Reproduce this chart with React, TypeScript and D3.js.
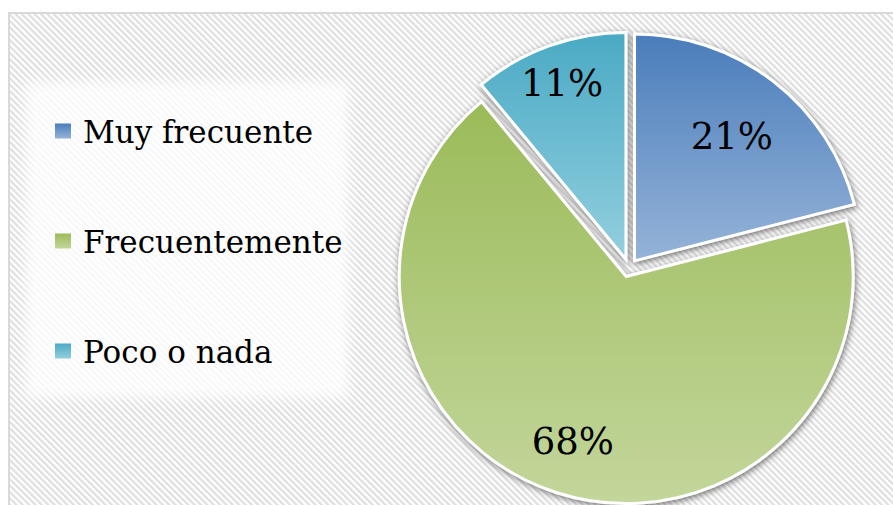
import * as d3 from "d3";
import { useEffect, useRef } from "react";

const categories = ["Muy frecuente", "Frecuentemente", "Poco o nada"];
const values = [21, 68, 11];
const percentLabels = ["21%", "68%", "11%"];
// gradient stops per category: top colour, bottom colour
const topColors = ["#4a7dbb", "#9bbb59", "#4aaac4"];
const bottomColors = ["#95b3d8", "#c3d69b", "#93cfdf"];

const W = 893;
const H = 505;

export default function App() {
	const ref = useRef<SVGSVGElement | null>(null);

	useEffect(() => {
		if (!ref.current) return;
		const svg = d3.select(ref.current);
		svg.selectAll("*").remove();

		const defs = svg.append("defs");

		// diagonal hatch background
		const pat = defs
			.append("pattern")
			.attr("id", "hatch")
			.attr("patternUnits", "userSpaceOnUse")
			.attr("width", 4.5)
			.attr("height", 4.5)
			.attr("patternTransform", "rotate(-45)");
		pat.append("rect").attr("width", 4.5).attr("height", 4.5).attr("fill", "#ffffff");
		pat.append("rect").attr("width", 2.2).attr("height", 4.5).attr("fill", "#dfdfdf");

		const soft = defs.append("filter").attr("id", "soft").attr("x", "-10%").attr("y", "-10%").attr("width", "120%").attr("height", "120%");
		soft.append("feGaussianBlur").attr("stdDeviation", 6);

		const shadow = defs.append("filter").attr("id", "shadow").attr("x", "-10%").attr("y", "-10%").attr("width", "120%").attr("height", "120%");
		shadow
			.append("feDropShadow")
			.attr("dx", 1)
			.attr("dy", 2)
			.attr("stdDeviation", 3)
			.attr("flood-color", "#444")
			.attr("flood-opacity", 0.75);

		const color = d3.scaleOrdinal<string, number>().domain(categories).range([0, 1, 2]);
		categories.forEach((c, i) => {
			const g = defs
				.append("linearGradient")
				.attr("id", `grad${i}`)
				.attr("x1", 0)
				.attr("y1", 0)
				.attr("x2", 0)
				.attr("y2", 1);
			g.append("stop").attr("offset", "0%").attr("stop-color", topColors[i]);
			g.append("stop").attr("offset", "100%").attr("stop-color", bottomColors[i]);
		});

		// chart area
		svg
			.append("rect")
			.attr("x", 9)
			.attr("y", 13)
			.attr("width", W + 20)
			.attr("height", H + 20)
			.attr("fill", "url(#hatch)")
			.attr("stroke", "#d9d9d9")
			.attr("stroke-width", 2);

		// legend backdrop
		svg
			.append("rect")
			.attr("x", 26)
			.attr("y", 82)
			.attr("width", 322)
			.attr("height", 316)
			.attr("fill", "#ffffff")
			.attr("opacity", 0.8)
			.attr("filter", "url(#soft)");

		// pie
		const cx = 629;
		const cy = 268;
		const r = 227;
		const explode = 9;
		const labelFactor = [0.7, 0.76, 0.83]; // excel "best fit" label distances
		const pie = d3
			.pie<number>()
			.value((d) => d)
			.sort(null);
		const arcs = pie(values);
		const arc = d3.arc<d3.PieArcDatum<number>>().innerRadius(0).outerRadius(r);

		const off = (d: d3.PieArcDatum<number>) => {
			const a = (d.startAngle + d.endAngle) / 2;
			return [Math.sin(a) * explode, -Math.cos(a) * explode];
		};

		const pg = svg.append("g").attr("transform", `translate(${cx},${cy})`);
		const slices = pg.append("g").attr("filter", "url(#shadow)");
		slices
			.selectAll("path")
			.data(arcs)
			.enter()
			.append("path")
			.attr("transform", (d) => `translate(${off(d)[0]},${off(d)[1]})`)
			.attr("d", arc)
			.attr("fill", (d, i) => `url(#grad${color(categories[i])})`)
			.attr("stroke", "#ffffff")
			.attr("stroke-width", 3)
			.attr("stroke-linejoin", "miter");

		pg.selectAll("text")
			.data(arcs)
			.enter()
			.append("text")
			.attr("transform", (d, i) => {
				const lr = r * labelFactor[i];
				const [x, y] = d3.arc<d3.PieArcDatum<number>>().innerRadius(lr).outerRadius(lr).centroid(d);
				const [ox, oy] = off(d);
				return `translate(${x + ox},${y + oy})`;
			})
			.attr("text-anchor", "middle")
			.attr("dy", "0.36em")
			.style("font-family", "'DejaVu Serif', serif")
			.style("font-size", "37px")
			.style("fill", "#000")
			.text((d, i) => percentLabels[i]);

		// legend
		const y = d3.scalePoint<string>().domain(categories).range([131, 351]);
		const lg = svg.append("g");
		const items = lg
			.selectAll("g")
			.data(categories)
			.enter()
			.append("g")
			.attr("transform", (d) => `translate(0,${y(d)})`);
		items
			.append("rect")
			.attr("x", 55)
			.attr("y", -7.5)
			.attr("width", 16)
			.attr("height", 15)
			.attr("fill", (d) => `url(#grad${color(d)})`);
		items
			.append("text")
			.attr("x", 83)
			.attr("y", 12)
			.style("font-family", "'DejaVu Serif', serif")
			.style("font-size", "31px")
			.style("fill", "#000")
			.text((d) => d);
	}, []);

	return (
		<svg
			ref={ref}
			width={W}
			height={H}
			style={{ position: "absolute", left: 0, top: 0, display: "block", background: "#fff" }}
		/>
	);
}
